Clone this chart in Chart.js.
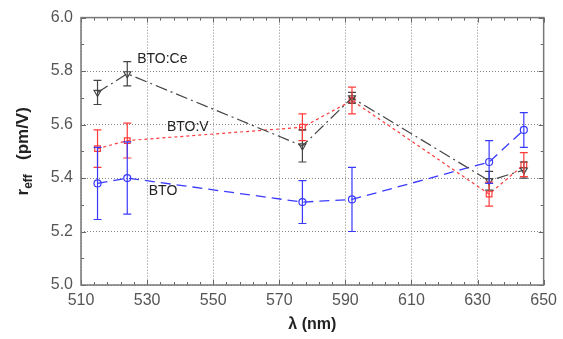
<!DOCTYPE html>
<html>
<head>
<meta charset="utf-8">
<script src="https://cdn.jsdelivr.net/npm/chart.js@4"></script>
<style>
    body { margin: 0; background: #fff; }
    #wrap { width: 563px; height: 339px; }
</style>
</head>
<body>
<div id="wrap"><canvas id="chart" width="563" height="339"></canvas></div>
<script>
// wavelengths (nm)
const wavelengths = [515, 524, 577, 592, 633.5, 644];

// r_eff (pm/V) and error bar half-widths
const btoValues = [5.38, 5.40, 5.31, 5.32, 5.46, 5.58];
const btoErrors = [0.135, 0.135, 0.08, 0.12, 0.08, 0.065];
const btoVValues = [5.51, 5.54, 5.59, 5.69, 5.34, 5.45];
const btoVErrors = [0.07, 0.065, 0.05, 0.05, 0.045, 0.045];
const btoCeValues = [5.72, 5.79, 5.52, 5.70, 5.39, 5.43];
const btoCeErrors = [0.045, 0.045, 0.06, 0.02, 0.035, 0.03];

const xTicks = [510, 530, 550, 570, 590, 610, 630, 650];
const yTicks = [5.0, 5.2, 5.4, 5.6, 5.8, 6.0];

// in-plot series labels: [text, x, y]
const seriesLabels = [
    ['BTO:Ce', 527, 5.845],
    ['BTO:V', 536, 5.59],
    ['BTO', 530.5, 5.35]
];

const FONT = "'Liberation Sans', Arial, sans-serif";

function toPoints(values) {
    return values.map((v, i) => ({ x: wavelengths[i], y: v }));
}

// Error bars drawn with the chart's own scales
const errorBarPlugin = {
    id: 'errorBars',
    afterDatasetsDraw(chart) {
        const ctx = chart.ctx;
        const xs = chart.scales.x, ys = chart.scales.y;
        chart.data.datasets.forEach(ds => {
            ctx.save();
            ctx.strokeStyle = ds.borderColor;
            ctx.lineWidth = 1.2;
            ds.data.forEach((p, i) => {
                const e = ds.errors[i];
                const px = xs.getPixelForValue(p.x);
                const top = ys.getPixelForValue(p.y + e);
                const bot = ys.getPixelForValue(p.y - e);
                ctx.beginPath();
                ctx.moveTo(px, top); ctx.lineTo(px, bot);
                ctx.moveTo(px - 4, top); ctx.lineTo(px + 4, top);
                ctx.moveTo(px - 4, bot); ctx.lineTo(px + 4, bot);
                ctx.stroke();
            });
            ctx.restore();
        });
    }
};

// Minor ticks, frame, labels and axis titles
const decorPlugin = {
    id: 'decor',
    afterDraw(chart) {
        const ctx = chart.ctx;
        const a = chart.chartArea;
        const xs = chart.scales.x, ys = chart.scales.y;
        ctx.save();
        ctx.strokeStyle = '#666';
        ctx.lineWidth = 1;
        ctx.beginPath();
        for (let v = 510; v <= 650; v += 4) {
            const px = Math.round(xs.getPixelForValue(v)) + 0.5;
            const len = (v - 510) % 20 === 0 ? 5 : 3;
            ctx.moveTo(px, a.bottom); ctx.lineTo(px, a.bottom - len);
            ctx.moveTo(px, a.top); ctx.lineTo(px, a.top + len);
        }
        for (let k = 0; k <= 10; k++) {
            const py = Math.round(ys.getPixelForValue(5 + k * 0.1)) + 0.5;
            const len = k % 2 === 0 ? 5 : 3;
            ctx.moveTo(a.left, py); ctx.lineTo(a.left + len, py);
            ctx.moveTo(a.right, py); ctx.lineTo(a.right - len, py);
        }
        ctx.stroke();

        ctx.strokeStyle = '#777';
        ctx.lineWidth = 1.5;
        ctx.strokeRect(a.left, a.top, a.right - a.left, a.bottom - a.top);

        ctx.fillStyle = '#222';
        ctx.font = '14px ' + FONT;
        ctx.textBaseline = 'middle';
        ctx.textAlign = 'left';
        seriesLabels.forEach(([t, x, y]) => {
            ctx.fillText(t, xs.getPixelForValue(x), ys.getPixelForValue(y));
        });

        // x title
        ctx.font = 'bold 16px ' + FONT;
        ctx.textAlign = 'center';
        ctx.fillText('\u03bb (nm)', (a.left + a.right) / 2, 325);

        // y title, rotated
        ctx.translate(23, (a.top + a.bottom) / 2);
        ctx.rotate(-Math.PI / 2);
        ctx.textAlign = 'left';
        ctx.font = 'bold 17px ' + FONT;
        const rW = ctx.measureText('r').width;
        ctx.font = 'bold 12px ' + FONT;
        const subW = ctx.measureText('eff').width;
        ctx.font = 'bold 17px ' + FONT;
        const restW = ctx.measureText('   (pm/V)').width;
        let x0 = -(rW + subW + restW) / 2;
        ctx.fillText('r', x0, 0);
        ctx.font = 'bold 12px ' + FONT;
        ctx.fillText('eff', x0 + rW, 6);
        ctx.font = 'bold 17px ' + FONT;
        ctx.fillText('   (pm/V)', x0 + rW + subW, 0);
        ctx.restore();
    }
};

const ctx = document.getElementById('chart').getContext('2d');
new Chart(ctx, {
    type: 'line',
    data: {
        datasets: [
            {
                label: 'BTO:Ce',
                data: toPoints(btoCeValues),
                errors: btoCeErrors,
                borderColor: '#444444',
                borderWidth: 1.2,
                borderDash: [12, 4, 2, 4],
                pointStyle: 'triangle',
                rotation: 180,
                pointRadius: 4,
                pointBorderColor: '#444444',
                pointBackgroundColor: 'rgba(0,0,0,0)',
                pointBorderWidth: 1.2
            },
            {
                label: 'BTO:V',
                data: toPoints(btoVValues),
                errors: btoVErrors,
                borderColor: '#ff3b3b',
                borderWidth: 1.2,
                borderDash: [3, 3],
                pointStyle: 'rect',
                pointRadius: 4,
                pointBorderColor: '#ff3b3b',
                pointBackgroundColor: 'rgba(0,0,0,0)',
                pointBorderWidth: 1.2
            },
            {
                label: 'BTO',
                data: toPoints(btoValues),
                errors: btoErrors,
                borderColor: '#3a3aff',
                borderWidth: 1.3,
                borderDash: [10, 6],
                pointStyle: 'circle',
                pointRadius: 3.5,
                pointBorderColor: '#3a3aff',
                pointBackgroundColor: 'rgba(0,0,0,0)',
                pointBorderWidth: 1.2
            }
        ]
    },
    options: {
        responsive: false,
        animation: false,
        layout: { padding: { left: 0, top: 13, right: 15, bottom: 0 } },
        plugins: {
            legend: { display: false },
            tooltip: { enabled: false }
        },
        scales: {
            x: {
                type: 'linear',
                min: 510,
                max: 650,
                afterBuildTicks: s => { s.ticks = xTicks.map(v => ({ value: v })); },
                afterFit: s => { s.height = 54; },
                grid: {
                    color: '#888',
                    lineWidth: 1,
                    drawTicks: false
                },
                border: { display: false, dash: [1, 2] },
                ticks: {
                    padding: 6,
                    color: '#555',
                    font: { family: FONT, size: 16 },
                    maxRotation: 0
                }
            },
            y: {
                min: 5.0,
                max: 6.0,
                afterBuildTicks: s => { s.ticks = yTicks.map(v => ({ value: v })); },
                afterFit: s => { s.width = 81; },
                grid: {
                    color: '#888',
                    lineWidth: 1,
                    drawTicks: false
                },
                border: { display: false, dash: [1, 2] },
                ticks: {
                    padding: 8,
                    color: '#555',
                    font: { family: FONT, size: 16 },
                    callback: v => v.toFixed(1)
                }
            }
        }
    },
    plugins: [errorBarPlugin, decorPlugin]
});
</script>
</body>
</html>
